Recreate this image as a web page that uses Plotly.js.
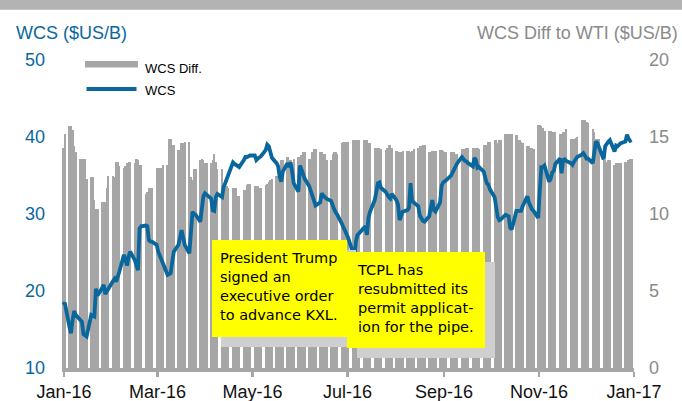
<!DOCTYPE html>
<html><head><meta charset="utf-8">
<script src="https://cdn.plot.ly/plotly-3.0.1.min.js"></script>
<style>html,body{margin:0;padding:0;background:#fff;}#chart{width:682px;height:401px;}</style>
</head><body><div id="chart"></div>
<script>
// WCS differential to WTI ($US/B), daily (weekdays) Dec 31 2015 .. Dec 30 2016
const wcsDiff = [
14.3, 15.2,
15.7, 15.7, 15.45, 14.4, 14.0,
13.6, 13.6, 13.6, 13.6, 12.3,
12.4, 12.4, 10.9, 10.3, 10.3,
10.75, 10.75, 10.75, 11.7, 12.5,
12.5, 12.4, 13.4, 13.4, 13.1,
13.0, 13.1, 13.3, 13.4, 13.4,
13.3, 13.6, 13.5, 13.2, 13.2,
11.3, 11.4, 11.7, 11.7, 11.7,
13.0, 13.0, 13.0, 13.0, 13.2,
13.2, 14.85, 14.9, 14.5, 14.5,
14.15, 14.15, 14.6, 14.6, 14.65,
14.65, 12.4, 12.2, 12.9, 12.9,
13.5, 13.6, 13.5, 13.3, 13.3,
13.3, 13.5, 13.9, 13.4, 12.9,
12.9, 11.8, 11.8, 11.8, 11.7,
11.7, 11.7, 11.7, 11.2, 11.2,
11.55, 11.55, 11.9, 11.95, 11.95,
11.8, 11.8, 11.8, 11.7, 11.7,
11.9, 11.95, 12.1, 12.2, 12.3,
12.5, 12.5, 12.5, 13.5, 13.5,
13.7, 13.5, 13.5, 12.5, 13.6,
13.7, 13.7, 13.8, 14.05, 14.05,
13.6, 13.6, 14.0, 14.2, 14.2,
14.0, 14.0, 13.9, 13.9, 13.5,
13.5, 13.9, 14.0, 14.0, 13.9,
14.6, 14.65, 14.65, 14.65, 14.65,
14.8, 14.8, 14.8, 14.8, 14.8,
14.8, 14.8, 14.8, 14.6, 14.6,
14.3, 14.3, 14.3, 14.3, 14.2,
14.15, 14.3, 14.5, 14.5, 14.3,
14.1, 14.0, 14.0, 14.05, 14.1,
14.1, 14.1, 14.0, 14.1, 14.2,
14.3, 14.4, 14.4, 14.5, 14.5,
14.0, 14.0, 14.1, 14.1, 14.1,
14.15, 14.15, 14.1, 14.05, 14.05,
14.05, 14.05, 14.05, 13.9, 13.9,
14.2, 14.2, 14.2, 14.3, 14.3,
14.3, 14.3, 14.3, 14.3, 14.2,
14.5, 14.5, 14.5, 14.65, 14.65,
14.8, 14.8, 14.6, 14.8, 14.8,
15.2, 15.2, 15.2, 15.2, 15.2,
15.1, 14.8, 14.8, 14.7, 14.6,
14.4, 14.4, 14.3, 14.3, 14.2,
15.75, 15.75, 15.7, 15.6, 15.4,
15.4, 15.4, 15.35, 15.35, 15.3,
15.2, 15.2, 15.3, 15.3, 15.5,
14.9, 14.9, 14.9, 14.95, 15.0,
16.1, 16.1, 16.1, 16.0, 15.9,
15.55, 15.3, 14.9, 14.9, 14.9,
13.5, 13.5, 13.4, 13.5, 13.5,
13.2, 13.3, 13.3, 13.3, 13.3,
13.4, 13.4, 13.5, 13.6, 13.6
];
// WCS price ($US/B), same days
const wcs = [
18.2, 18.5,
15.3, 14.5, 16.2, 17.4, 16.9,
16.2, 16.0, 14.4, 14.2, 14.1,
16.9, 16.8, 16.7, 20.3, 19.4,
20.4, 20.8, 19.6, 20.0, 20.3,
21.3, 21.6, 21.2, 21.8, 22.5,
24.7, 23.8, 23.3, 24.5, 25.1,
24.0, 23.2, 22.7, 28.1, 28.4,
28.5, 28.4, 26.6, 26.4, 26.4,
26.0, 25.1, 24.6, 24.0, 23.4,
22.1, 22.2, 22.3, 23.8, 25.1,
26.0, 26.8, 27.9, 27.0, 26.0,
24.9, 28.1, 30.3, 30.0, 29.9,
29.0, 30.5, 32.3, 32.7, 32.5,
32.0, 30.5, 30.4, 32.2, 32.6,
32.2, 33.5, 34.0, 34.6, 35.0,
36.7, 36.5, 36.4, 36.2, 36.1,
37.0, 37.4, 37.4, 37.5, 37.6,
37.6, 37.0, 37.2, 37.4, 37.5,
38.3, 39.0, 38.8, 38.1, 37.3,
36.6, 36.2, 34.8, 34.2, 35.5,
36.6, 36.1, 36.7, 35.5, 34.0,
32.9, 36.3, 35.8, 35.3, 34.6,
33.6, 32.9, 32.3, 31.6, 31.1,
31.5, 32.7, 32.4, 32.1, 32.0,
31.7, 31.0, 30.6, 30.2, 29.9,
28.7, 28.3, 27.8, 27.3, 26.9,
25.0, 24.6, 26.5, 27.3, 27.5,
28.2, 28.4, 27.3, 29.5, 30.3,
31.8, 32.8, 34.0, 34.1, 33.4,
32.9, 32.4, 32.2, 32.0, 32.6,
31.8, 31.2, 29.2, 29.9, 30.3,
30.5, 30.8, 34.0, 31.7, 31.5,
31.0, 29.8, 29.4, 29.1, 29.0,
29.7, 30.8, 31.8, 30.5, 30.3,
31.5, 33.7, 34.1, 34.2, 34.4,
35.0, 35.4, 35.8, 36.2, 36.6,
37.4, 37.1, 36.9, 36.8, 36.6,
36.2, 37.3, 37.0, 36.0, 36.1,
35.5, 34.7, 34.0, 33.8, 33.2,
32.2, 31.0, 29.6, 29.2, 29.3,
29.9, 29.8, 29.7, 28.2, 28.0,
30.4, 30.4, 30.4, 30.4, 31.0,
32.3, 31.5, 30.9, 30.6, 30.4,
29.5, 33.0, 36.1, 36.1, 36.3,
34.2, 34.6, 35.4, 35.6, 36.5,
37.2, 35.3, 37.0, 37.1, 36.9,
36.6, 36.4, 36.8, 37.1, 37.4,
37.7, 37.9, 37.6, 37.2, 37.2,
36.6, 38.0, 39.4, 39.2, 38.7,
37.1, 38.8, 39.2, 39.4, 39.6,
38.1, 38.9, 38.8, 39.0, 39.2,
39.4, 40.3, 39.8, 39.5, 39.6
];
const xTickVals = ['2016-01-01','2016-03-01','2016-05-01','2016-07-01','2016-09-01','2016-11-01','2017-01-01'];
const xTickText = ['Jan-16','Mar-16','May-16','Jul-16','Sep-16','Nov-16','Jan-17'];
const leftTicks = [10, 20, 30, 40, 50];
const rightTicks = [0, 5, 10, 15, 20];
const seriesNames = ['WCS Diff.', 'WCS'];
const note1 = 'President Trump<br>signed an<br>executive order<br>to advance KXL.';
const note2 = 'TCPL has<br>resubmitted its<br>permit applicat-<br>ion for the pipe.';

// trading days (weekdays), centred at noon
const dates = [];
for (let t = Date.UTC(2015, 11, 31); t <= Date.UTC(2016, 11, 30); t += 86400000) {
  const d = new Date(t); const wd = d.getUTCDay();
  if (wd !== 0 && wd !== 6) dates.push(d.toISOString().slice(0, 10) + ' 12:00');
}

const L = 62, R = 634, T = 60, B = 368;
const PX = x => (x - L) / (R - L);
const PY = y => (B - y) / (B - T);
const FONT = 'Liberation Sans, Arial, sans-serif';
const COMIC = 'Comic Sans MS, DejaVu Sans, sans-serif';
const BLUE = '#0a679d', BAR = '#a6a6a6', GREY_TXT = '#8a8a8a';

const traces = [
  { type: 'bar', x: dates, y: wcsDiff, yaxis: 'y', name: seriesNames[0],
    marker: { color: BAR, line: { width: 0 } }, width: 1.4 * 86400000, hoverinfo: 'skip' },
  { type: 'scatter', mode: 'lines', x: dates, y: wcs, yaxis: 'y2', name: seriesNames[1],
    line: { color: BLUE, width: 3.8 }, hoverinfo: 'skip' }
];

const shapes = [
  { type: 'rect', xref: 'paper', yref: 'paper', x0: PX(-5), x1: PX(690), y0: PY(9.7), y1: PY(-5),
    fillcolor: '#b3b3b3', line: { width: 0 }, layer: 'above' },
  // legend swatches
  { type: 'rect', xref: 'paper', yref: 'paper', x0: PX(85), x1: PX(138), y0: PY(67.5), y1: PY(61),
    fillcolor: BAR, line: { width: 0 }, layer: 'above' },
  { type: 'line', xref: 'paper', yref: 'paper', x0: PX(86.5), x1: PX(136.5), y0: PY(89), y1: PY(89),
    line: { color: BLUE, width: 3.8 }, layer: 'above' },
  // note boxes with shadows
  { type: 'rect', xref: 'paper', yref: 'paper', x0: PX(221), x1: PX(356), y0: PY(347), y1: PY(250),
    fillcolor: '#cfcfcf', line: { width: 0 }, layer: 'above' },
  { type: 'rect', xref: 'paper', yref: 'paper', x0: PX(212), x1: PX(347), y0: PY(337), y1: PY(240),
    fillcolor: '#ffff00', line: { width: 0 }, layer: 'above' },
  { type: 'rect', xref: 'paper', yref: 'paper', x0: PX(357), x1: PX(495), y0: PY(358), y1: PY(262),
    fillcolor: '#cfcfcf', line: { width: 0 }, layer: 'above' },
  { type: 'rect', xref: 'paper', yref: 'paper', x0: PX(347), x1: PX(485), y0: PY(348), y1: PY(252),
    fillcolor: '#ffff00', line: { width: 0 }, layer: 'above' }
];

const annotations = [
  { text: 'WCS ($US/B)', xref: 'paper', yref: 'paper', x: PX(14), y: PY(33), xanchor: 'left', yanchor: 'middle',
    showarrow: false, font: { family: FONT, size: 18, color: BLUE } },
  { text: 'WCS Diff to WTI ($US/B)', xref: 'paper', yref: 'paper', x: PX(680), y: PY(33), xanchor: 'right', yanchor: 'middle',
    showarrow: false, font: { family: FONT, size: 18, color: GREY_TXT } },
  { text: seriesNames[0], xref: 'paper', yref: 'paper', x: PX(143), y: PY(68), xanchor: 'left', yanchor: 'middle',
    showarrow: false, font: { family: FONT, size: 13, color: '#000' } },
  { text: seriesNames[1], xref: 'paper', yref: 'paper', x: PX(143), y: PY(90), xanchor: 'left', yanchor: 'middle',
    showarrow: false, font: { family: FONT, size: 13, color: '#000' } },
  { text: note1, xref: 'paper', yref: 'paper', x: PX(218), y: PY(286.5), xanchor: 'left', yanchor: 'middle', align: 'left',
    showarrow: false, font: { family: COMIC, size: 14.5, color: '#000' } },
  { text: note2, xref: 'paper', yref: 'paper', x: PX(355), y: PY(298.5), xanchor: 'left', yanchor: 'middle', align: 'left',
    showarrow: false, font: { family: COMIC, size: 14.5, color: '#000' } }
];

const layout = {
  width: 682, height: 401,
  margin: { l: L, r: 682 - R, t: T, b: 401 - B, pad: 0 },
  paper_bgcolor: '#fff', plot_bgcolor: '#fff',
  showlegend: false, bargap: 0,
  xaxis: {
    type: 'date', range: ['2015-12-30 17:09', '2017-01-01 00:00'],
    tickmode: 'array', tickvals: xTickVals, ticktext: xTickText,
    ticks: 'outside', ticklen: 5, tickwidth: 2.5, tickcolor: BAR,
    showline: true, linecolor: BAR, linewidth: 3.5,
    showgrid: false, zeroline: false, fixedrange: true,
    tickfont: { family: FONT, size: 18, color: '#111' }
  },
  yaxis: {
    side: 'right', range: [0, 20], tickmode: 'array', tickvals: rightTicks,
    showgrid: false, zeroline: false, showline: false, ticks: '',
    ticklabelstandoff: 14,
    tickfont: { family: FONT, size: 18, color: GREY_TXT }
  },
  yaxis2: {
    overlaying: 'y', side: 'left', range: [10, 50], tickmode: 'array', tickvals: leftTicks,
    showgrid: false, zeroline: false, showline: false, ticks: '',
    ticklabelstandoff: 16,
    tickfont: { family: FONT, size: 18, color: BLUE }
  },
  shapes: shapes,
  annotations: annotations
};

Plotly.newPlot('chart', traces, layout, { staticPlot: true, displayModeBar: false });
</script>
</body></html>
